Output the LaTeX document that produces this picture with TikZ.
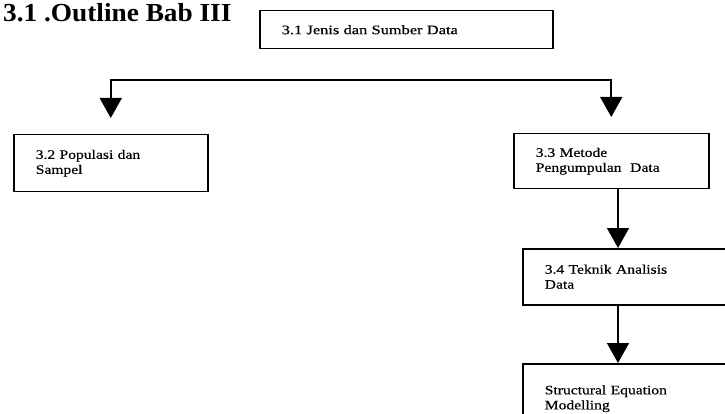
\documentclass[tikz,border=0pt]{standalone}
\usepackage{fontspec}
\setmainfont{Liberation Serif}
\newfontfamily\boxfont[FakeStretch=1.2, FakeBold=0.5]{Liberation Serif}
\newfontfamily\widefont[FakeStretch=1.26, FakeBold=0.5]{Liberation Serif}
\newfontfamily\titlefont[FakeStretch=1.05]{Liberation Serif}
\usetikzlibrary{arrows.meta, positioning}

\begin{document}
\begin{tikzpicture}[
    x=1pt, y=-1pt,
    every node/.style={font=\boxfont\fontsize{13}{15}\selectfont},
    box/.style={draw, line width=1.5pt, rectangle, anchor=north west, align=left, inner xsep=22pt, inner ysep=0pt},
    arr/.style={line width=1.6pt, -{Triangle[width=22pt,length=20pt]}}
]
\useasboundingbox (0,0) rectangle (725,414);
\clip (0,0) rectangle (725,414);

% Title
\node[anchor=base west, inner sep=0pt, font=\titlefont\bfseries\fontsize{26}{30}\selectfont] (title) at (3,22) {3.1 .Outline Bab III};

% First section
\node[box, text width=249pt, minimum height=38pt, font=\widefont\fontsize{13}{15}\selectfont] (jenis) at (259,10) {3.1 Jenis dan Sumber Data};

% Population and sample
\node[box, text width=150pt, minimum height=57pt] (populasi) at (13,134) {3.2 Populasi dan\\Sampel};

% Data collection
\node[box, text width=151pt, minimum height=55pt] (metode) at (513,133) {3.3 Metode\\Pengumpulan~ Data};

% Analysis
\node[box, text width=171pt, minimum height=56pt] (teknik) at (522,248) {3.4 Teknik Analisis\\Data};

% SEM
\node[box, text width=171pt, minimum height=70pt] (sem) at (522,363) {Structural Equation\\Modelling};

% Split line
\coordinate (fork) at (360,80);
\draw[arr, shorten >=16pt] (fork) -| (populasi.north);
\draw[arr, shorten >=16pt] (fork) -| (metode.north);

% Down the right side
\coordinate (spine) at (618,200);
\draw[arr] (spine |- metode.south) -- (spine |- teknik.north);
\draw[arr] (spine |- teknik.south) -- (spine |- sem.north);

\end{tikzpicture}
\end{document}
